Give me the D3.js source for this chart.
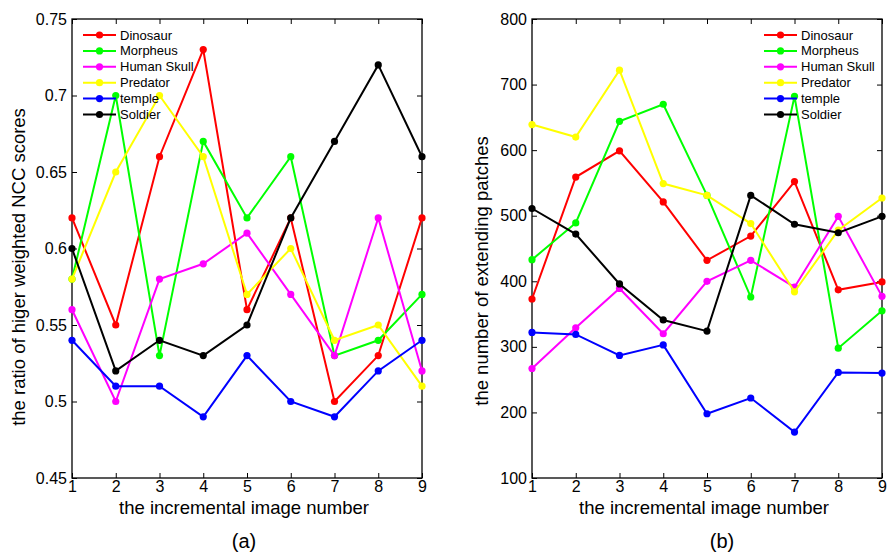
<!DOCTYPE html>
<html>
<head>
<meta charset="utf-8">
<script src="https://cdn.jsdelivr.net/npm/d3@7"></script>
<style>
  body { margin: 0; background: #fff; }
  svg { display: block; }
  text { font-family: "Liberation Sans", Arial, Helvetica, sans-serif; }
</style>
</head>
<body>
<svg id="chart" width="891" height="553"></svg>
<script>
// x positions (incremental image number)
const imageNumbers = [1, 2, 3, 4, 5, 6, 7, 8, 9];

const seriesNames = ['Dinosaur', 'Morpheus', 'Human Skull', 'Predator', 'temple', 'Soldier'];
const seriesColors = ['#ff0000', '#00ff00', '#ff00ff', '#ffff00', '#0000ff', '#000000'];

// panel (a): ratio of higher weighted NCC scores
const nccDinosaur = [0.62, 0.55, 0.66, 0.73, 0.56, 0.62, 0.50, 0.53, 0.62];
const nccMorpheus = [0.58, 0.70, 0.53, 0.67, 0.62, 0.66, 0.53, 0.54, 0.57];
const nccSkull    = [0.56, 0.50, 0.58, 0.59, 0.61, 0.57, 0.53, 0.62, 0.52];
const nccPredator = [0.58, 0.65, 0.70, 0.66, 0.57, 0.60, 0.54, 0.55, 0.51];
const nccTemple   = [0.54, 0.51, 0.51, 0.49, 0.53, 0.50, 0.49, 0.52, 0.54];
const nccSoldier  = [0.60, 0.52, 0.54, 0.53, 0.55, 0.62, 0.67, 0.72, 0.66];
const nccTicks = [0.45, 0.5, 0.55, 0.6, 0.65, 0.7, 0.75];

// panel (b): number of extending patches
const patchDinosaur = [373, 559, 599, 521, 432, 469, 552, 387, 399];
const patchMorpheus = [433, 489, 644, 670, 531, 376, 682, 298, 355];
const patchSkull    = [267, 329, 389, 320, 400, 432, 391, 499, 377];
const patchPredator = [639, 620, 722, 549, 531, 488, 384, 478, 527];
const patchTemple   = [322, 319, 287, 303, 198, 222, 170, 261, 260];
const patchSoldier  = [511, 472, 396, 341, 324, 531, 487, 474, 499];
const patchTicks = [100, 200, 300, 400, 500, 600, 700, 800];

const svg = d3.select('#chart');

function drawPanel(opts) {
  const x = d3.scaleLinear().domain([1, 9]).range([opts.left, opts.right]);
  const y = d3.scaleLinear().domain(opts.yDomain).range([opts.bottom, opts.top]);
  const g = svg.append('g');
  const tickLen = 5;

  // ticks inside on all four sides
  g.append('g')
    .attr('transform', `translate(0,${opts.bottom})`)
    .call(d3.axisBottom(x).tickValues(imageNumbers).tickSize(-tickLen).tickPadding(3).tickFormat(d3.format('d')))
    .call(a => a.select('.domain').remove());
  g.append('g')
    .attr('transform', `translate(0,${opts.top})`)
    .call(d3.axisTop(x).tickValues(imageNumbers).tickSize(-tickLen).tickFormat(''))
    .call(a => a.select('.domain').remove());
  g.append('g')
    .attr('transform', `translate(${opts.left},0)`)
    .call(d3.axisLeft(y).tickValues(opts.ticks).tickSize(-tickLen).tickPadding(5).tickFormat(opts.fmt))
    .call(a => a.select('.domain').remove());
  g.append('g')
    .attr('transform', `translate(${opts.right},0)`)
    .call(d3.axisRight(y).tickValues(opts.ticks).tickSize(-tickLen).tickFormat(''))
    .call(a => a.select('.domain').remove());

  g.selectAll('.tick line').attr('stroke', '#000').attr('stroke-width', 1);
  g.selectAll('.tick text').attr('font-size', 16).attr('fill', '#000')
    .attr('font-family', '"Liberation Sans", Arial, sans-serif');

  g.append('rect')
    .attr('x', opts.left).attr('y', opts.top)
    .attr('width', opts.right - opts.left).attr('height', opts.bottom - opts.top)
    .attr('fill', 'none').attr('stroke', '#000').attr('stroke-width', 1.3);

  const line = d3.line().x((d, i) => x(imageNumbers[i])).y(d => y(d));

  opts.series.forEach((vals, si) => {
    g.append('path')
      .attr('d', line(vals))
      .attr('fill', 'none')
      .attr('stroke', seriesColors[si])
      .attr('stroke-width', 2);
    g.selectAll(null)
      .data(vals)
      .enter()
      .append('circle')
      .attr('cx', (d, i) => x(imageNumbers[i]))
      .attr('cy', d => y(d))
      .attr('r', 3.6)
      .attr('fill', seriesColors[si]);
  });

  // legend
  const lg = g.append('g');
  seriesNames.forEach((name, i) => {
    const ly = 35 + i * 15.9;
    lg.append('line')
      .attr('x1', opts.legendX).attr('x2', opts.legendX + 33)
      .attr('y1', ly).attr('y2', ly)
      .attr('stroke', seriesColors[i]).attr('stroke-width', 2);
    lg.append('circle')
      .attr('cx', opts.legendX + 16.5).attr('cy', ly).attr('r', 3.6)
      .attr('fill', seriesColors[i]);
    lg.append('text')
      .attr('x', opts.legendX + 37).attr('y', ly + 4.5)
      .attr('font-size', 13)
      .text(name);
  });

  // axis titles
  g.append('text')
    .attr('x', (opts.left + opts.right) / 2 - 3).attr('y', 514)
    .attr('text-anchor', 'middle').attr('font-size', 18.5)
    .text('the incremental image number');
  g.append('text')
    .attr('transform', `translate(${opts.yTitleX},${opts.yTitleY}) rotate(-90)`)
    .attr('text-anchor', 'middle').attr('font-size', 18.5)
    .text(opts.yTitle);
  g.append('text')
    .attr('x', opts.captionX).attr('y', 548)
    .attr('text-anchor', 'middle').attr('font-size', 20)
    .attr('font-family', '"Liberation Serif", "Times New Roman", serif')
    .text(opts.caption);
}

drawPanel({
  left: 72, right: 422, top: 19, bottom: 478,
  yDomain: [0.45, 0.75], ticks: nccTicks,
  fmt: d => d3.format('')(d),
  series: [nccDinosaur, nccMorpheus, nccSkull, nccPredator, nccTemple, nccSoldier],
  legendX: 83,
  yTitle: 'the ratio of higer weighted NCC scores', yTitleX: 25, yTitleY: 267,
  caption: '(a)', captionX: 244
});

drawPanel({
  left: 532, right: 882, top: 19, bottom: 478,
  yDomain: [100, 800], ticks: patchTicks,
  fmt: d3.format('d'),
  series: [patchDinosaur, patchMorpheus, patchSkull, patchPredator, patchTemple, patchSoldier],
  legendX: 764,
  yTitle: 'the number of extending patches', yTitleX: 488, yTitleY: 271,
  caption: '(b)', captionX: 722
});
</script>
</body>
</html>
